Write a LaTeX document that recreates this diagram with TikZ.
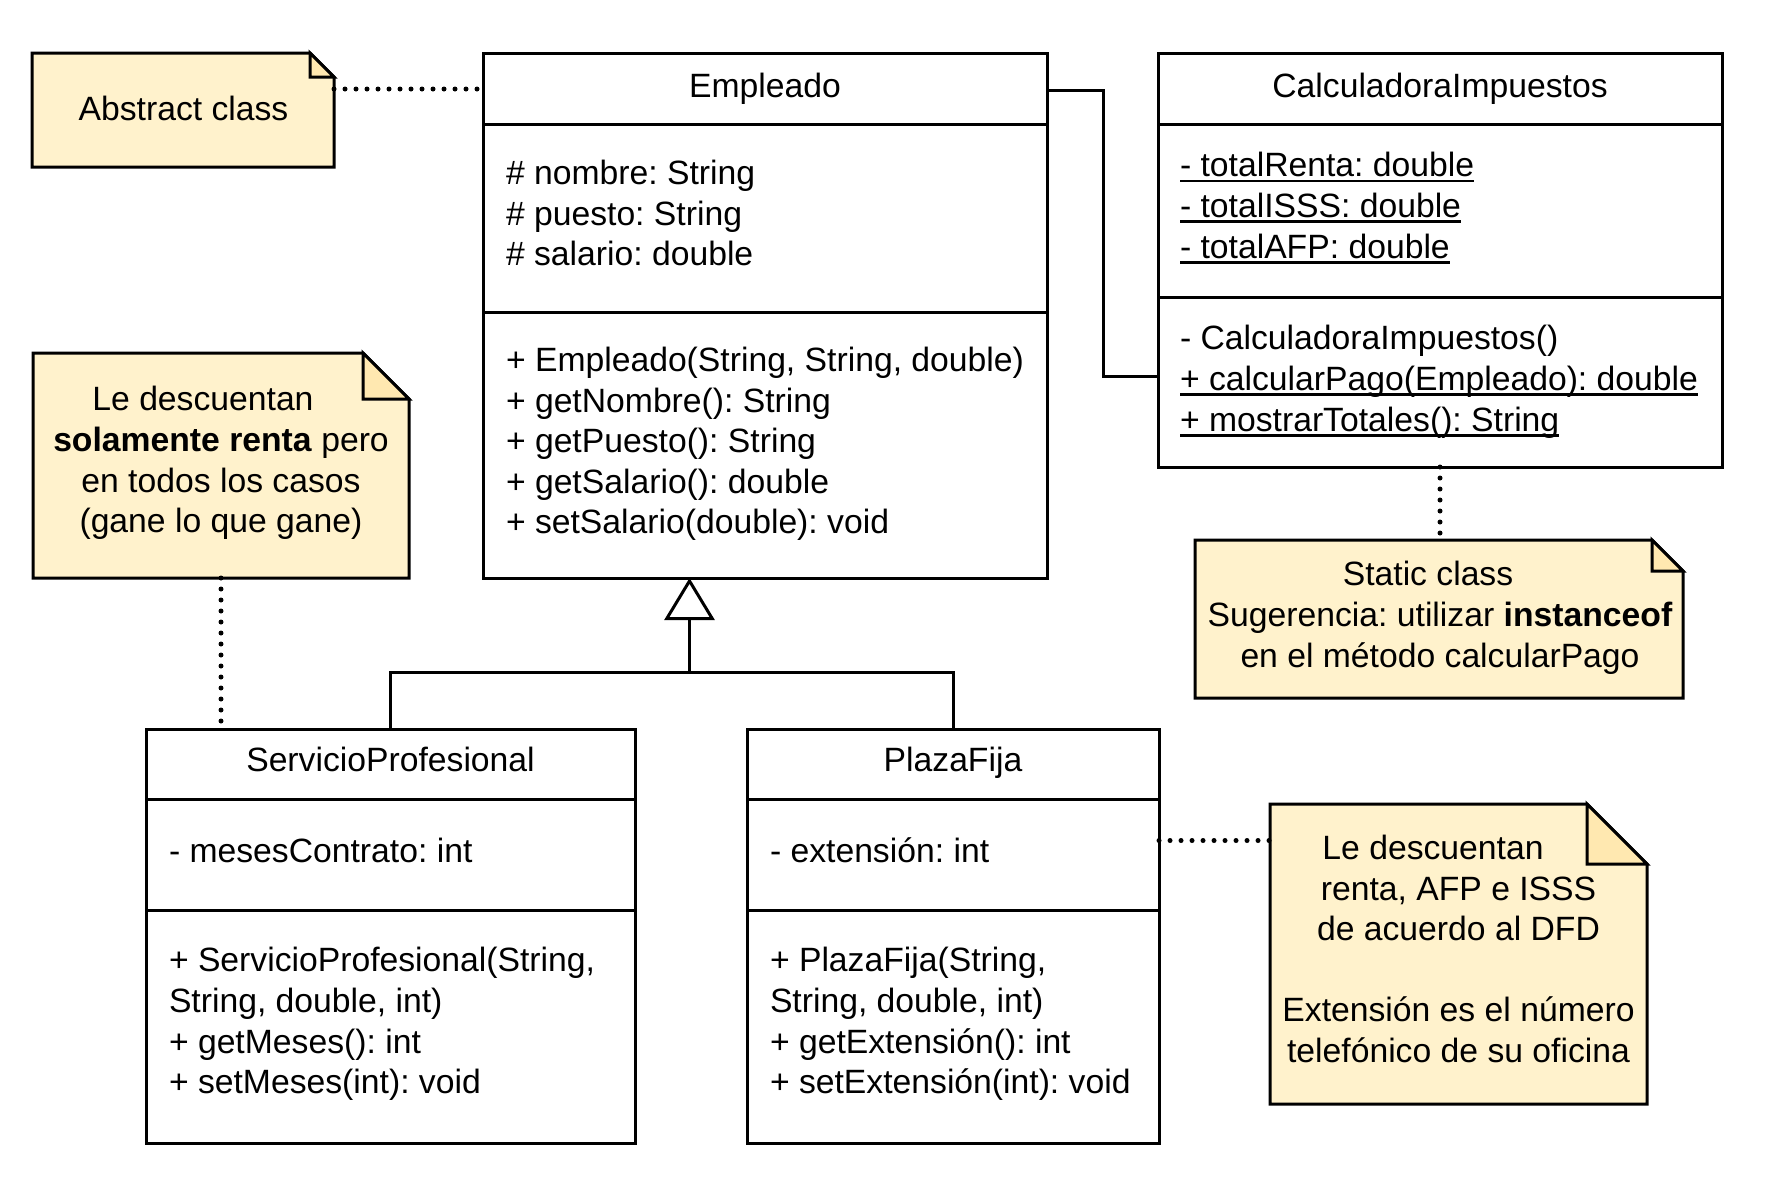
\documentclass[tikz,border=0pt]{standalone}
\usepackage{fontspec}
\setmainfont{Liberation Sans}
\usetikzlibrary{arrows.meta}
\frenchspacing
\definecolor{notefill}{HTML}{FFF2CC}
\definecolor{foldfill}{HTML}{FFE8B0}
\newcommand{\ulx}[1]{\setbox0=\hbox{#1}\rlap{\rule[-5.5pt]{\wd0}{2.7pt}}\box0}
\newcommand{\drawnote}[2]{%
  \draw[noteshape] (#1.north west) -- ([xshift=-#2pt]#1.north east) -- ([yshift=-#2pt]#1.north east) -- (#1.south east) -- (#1.south west) -- cycle;
  \draw[foldshape] ([xshift=-#2pt]#1.north east) -- ([xshift=-#2pt,yshift=-#2pt]#1.north east) -- ([yshift=-#2pt]#1.north east) -- cycle;}
\tikzset{
  txt/.style={inner sep=0pt, outer sep=0pt, font={\fontsize{33.7}{40.6}\selectfont\frenchspacing}},
  classbox/.style={draw, line width=3pt, fill=white, inner sep=0pt, outer sep=0pt, anchor=north west},
  noteframe/.style={inner sep=0pt, outer sep=0pt, anchor=north west},
  noteshape/.style={draw, line width=3pt, fill=notefill, line join=miter},
  foldshape/.style={draw, line width=3pt, fill=foldfill, line join=miter},
  sepline/.style={line width=3pt},
  conn/.style={line width=3pt},
  dotline/.style={line width=5pt, line cap=round, dash pattern=on 0pt off 11pt},
}
\begin{document}
\begin{tikzpicture}[x=1pt,y=-1pt]
\fill[white] (0,0) rectangle (1776,1179);
\useasboundingbox (0,0) rectangle (1776,1179);

% ---------- notes ----------
\node[noteframe, minimum width=302pt, minimum height=114pt] (absnote) at (32,53) {};
\drawnote{absnote}{24}
\node[txt, anchor=base] (abstxt) at (183.5,120) {Abstract class};

\node[noteframe, minimum width=376pt, minimum height=225pt] (lnote) at (33,353) {};
\drawnote{lnote}{46}
\node[txt, anchor=north, align=center] (ltxt) at (221,382.5) {\strut Le descuentan\kern36pt\\\strut\textbf{solamente renta} pero\\\strut en todos los casos\\\strut(gane lo que gane)};

\node[noteframe, minimum width=488pt, minimum height=158pt] (snote) at (1195,540) {};
\drawnote{snote}{31}
\node[txt, anchor=north, align=center] (stxt) at (1440,557.5) {\strut Static class\kern24pt\\\strut Sugerencia: utilizar \textbf{instanceof}\\\strut en el método calcularPago};

\node[noteframe, minimum width=377pt, minimum height=300pt] (rnote) at (1270,804) {};
\drawnote{rnote}{60}
\node[txt, anchor=north, align=center] (rtxt) at (1458.5,831) {\strut Le descuentan\kern51pt\\\strut renta, AFP e ISSS\\\strut de acuerdo al DFD\\\strut\\\strut Extensión es el número\\\strut telefónico de su oficina};

% ---------- classes ----------
\node[classbox, minimum width=564pt, minimum height=525pt] (emp) at (483,53) {};
\draw[sepline] (emp.west |- 0,124) -- (emp.east |- 0,124);
\draw[sepline] (emp.west |- 0,312) -- (emp.east |- 0,312);
\node[txt, anchor=base] (empT) at (765,97) {Empleado};
\node[txt, anchor=north west, align=left] (empA) at (506,156) {\strut\# nombre: String\\\strut\# puesto: String\\\strut\# salario: double};
\node[txt, anchor=north west, align=left] (empM) at (506,343) {\strut+ Empleado(String, String, double)\\\strut+ getNombre(): String\\\strut+ getPuesto(): String\\\strut+ getSalario(): double\\\strut+ setSalario(double): void};

\node[classbox, minimum width=564pt, minimum height=414pt] (calc) at (1158,53) {};
\draw[sepline] (calc.west |- 0,124) -- (calc.east |- 0,124);
\draw[sepline] (calc.west |- 0,297) -- (calc.east |- 0,297);
\node[txt, anchor=base] (calcT) at (1440,97) {CalculadoraImpuestos};
\node[txt, anchor=north west, align=left] (calcA) at (1180,148.5) {\strut\ulx{- totalRenta: double}\\\strut\ulx{- totalISSS: double}\\\strut\ulx{- totalAFP: double}};
\node[txt, anchor=north west, align=left] (calcM) at (1180,321.5) {\strut- CalculadoraImpuestos()\\\strut\ulx{+ calcularPago(Empleado): double}\\\strut\ulx{+ mostrarTotales(): String}};

\node[classbox, minimum width=489pt, minimum height=414pt] (sp) at (146,729) {};
\draw[sepline] (sp.west |- 0,799) -- (sp.east |- 0,799);
\draw[sepline] (sp.west |- 0,910) -- (sp.east |- 0,910);
\node[txt, anchor=base] (spT) at (390.5,771.5) {ServicioProfesional};
\node[txt, anchor=north west, align=left] (spA) at (169,834.5) {\strut- mesesContrato: int};
\node[txt, anchor=north west, align=left] (spM) at (169,943.5) {\strut+ ServicioProfesional(String,\\\strut String, double, int)\\\strut+ getMeses(): int\\\strut+ setMeses(int): void};

\node[classbox, minimum width=412pt, minimum height=414pt] (pf) at (747,729) {};
\draw[sepline] (pf.west |- 0,799) -- (pf.east |- 0,799);
\draw[sepline] (pf.west |- 0,910) -- (pf.east |- 0,910);
\node[txt, anchor=base] (pfT) at (953,771.5) {PlazaFija};
\node[txt, anchor=north west, align=left] (pfA) at (770,834.5) {\strut- extensión: int};
\node[txt, anchor=north west, align=left] (pfM) at (770,943.5) {\strut+ PlazaFija(String,\\\strut String, double, int)\\\strut+ getExtensión(): int\\\strut+ setExtensión(int): void};

% ---------- connectors ----------
\draw[dotline] ([yshift=-36pt]absnote.north east) -- ([yshift=-36pt]emp.north west);
\draw[conn] ([yshift=-37pt]emp.north east) -- ++(56,0) |- ([yshift=-323pt]calc.north west);
\draw[dotline] (calc.south) -- (calc.south |- snote.north);
\draw[dotline] (lnote.south) -- (lnote.south |- sp.north);
\draw[dotline] ([yshift=-111.5pt]pf.north east) -- ([yshift=-36.5pt]rnote.north west);

\coordinate (junc) at (689.5,672.5);
\draw[conn] (sp.north) |- (junc) -| (pf.north);
\draw[conn, -{Triangle[open, length=42pt, width=50pt, line width=3pt]}] (junc) -- (junc |- emp.south);
\end{tikzpicture}
\end{document}
